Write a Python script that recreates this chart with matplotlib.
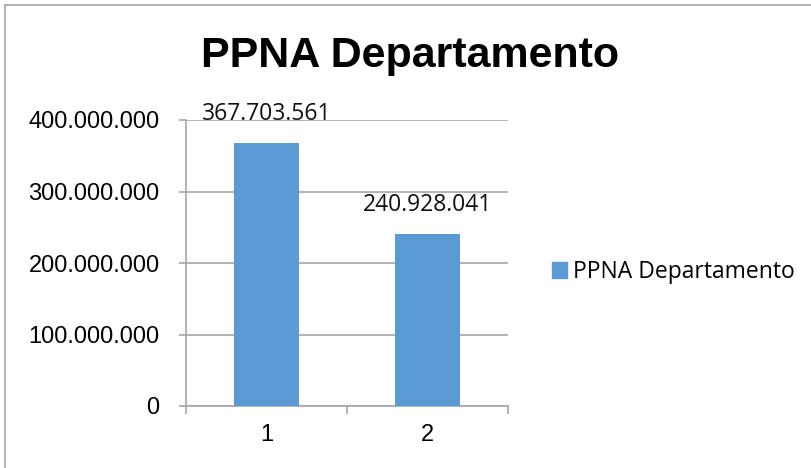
import matplotlib.pyplot as plt
from matplotlib.lines import Line2D
from matplotlib.patches import Patch

categories = ["1", "2"]
values = [367703561, 240928041]
y_ticks = [0, 100000000, 200000000, 300000000, 400000000]
series_name = "PPNA Departamento"
title = "PPNA Departamento"

axis_font = "Liberation Sans"
label_font = "Open Sans"
bar_color = "#5b9bd5"
grid_color = "#a6a6a6"


def fmt(v):
    return f"{v:,}".replace(",", ".")


fig = plt.figure(figsize=(8.12, 4.68), dpi=100)
ax = fig.add_axes([186 / 812, 1 - 406 / 468, 322 / 812, 286 / 468])

x = list(range(len(categories)))
bars = ax.bar(x, values, width=0.4, color=bar_color, zorder=3)
ax.set_xlim(-0.5, len(categories) - 0.5)
ax.set_ylim(0, 400000000)

ax.set_yticks(y_ticks)
ax.set_yticklabels([fmt(v) for v in y_ticks], fontfamily=axis_font, fontsize=17)
ax.yaxis.grid(True, color=grid_color, linewidth=1.2, zorder=0)
ax.set_xticks(x)
ax.set_xticklabels(categories, fontfamily=axis_font, fontsize=17)
ax.tick_params(axis="x", length=0, pad=13)
ax.tick_params(axis="y", length=5, color=grid_color, width=1.2, pad=14)
# category boundary ticks on the x axis
ax.set_xticks([i - 0.5 for i in range(len(categories) + 1)], minor=True)
ax.tick_params(axis="x", which="minor", length=6, color=grid_color, width=1.2)

for s in ["top", "right"]:
    ax.spines[s].set_visible(False)
for s in ["left", "bottom"]:
    ax.spines[s].set_color(grid_color)
    ax.spines[s].set_linewidth(1.2)

for b, v in zip(bars, values):
    ax.annotate(fmt(v), (b.get_x() + b.get_width() / 2, v), xytext=(0, 12),
                textcoords="offset points", ha="center", va="bottom",
                fontsize=16.5, fontfamily=label_font, color="#111111")

fig.text(410 / 812, 1 - 56 / 468, title, ha="center", va="center",
         fontsize=31, fontweight="bold", fontfamily=axis_font)

fig.legend([Patch(color=bar_color)], [series_name], loc="center left",
           bbox_to_anchor=(531 / 812, 1 - 272 / 468), frameon=False,
           prop={"family": label_font, "size": 16.5}, handlelength=0.65,
           handleheight=0.65, handletextpad=0.3)

# chart frame border (top and left visible)
fig.add_artist(Line2D([5 / 812, 1.0], [1 - 5 / 468] * 2, color=grid_color, linewidth=1.2))
fig.add_artist(Line2D([5 / 812] * 2, [0.0, 1 - 5 / 468], color=grid_color, linewidth=1.2))

fig.savefig("out.png", dpi=100)
